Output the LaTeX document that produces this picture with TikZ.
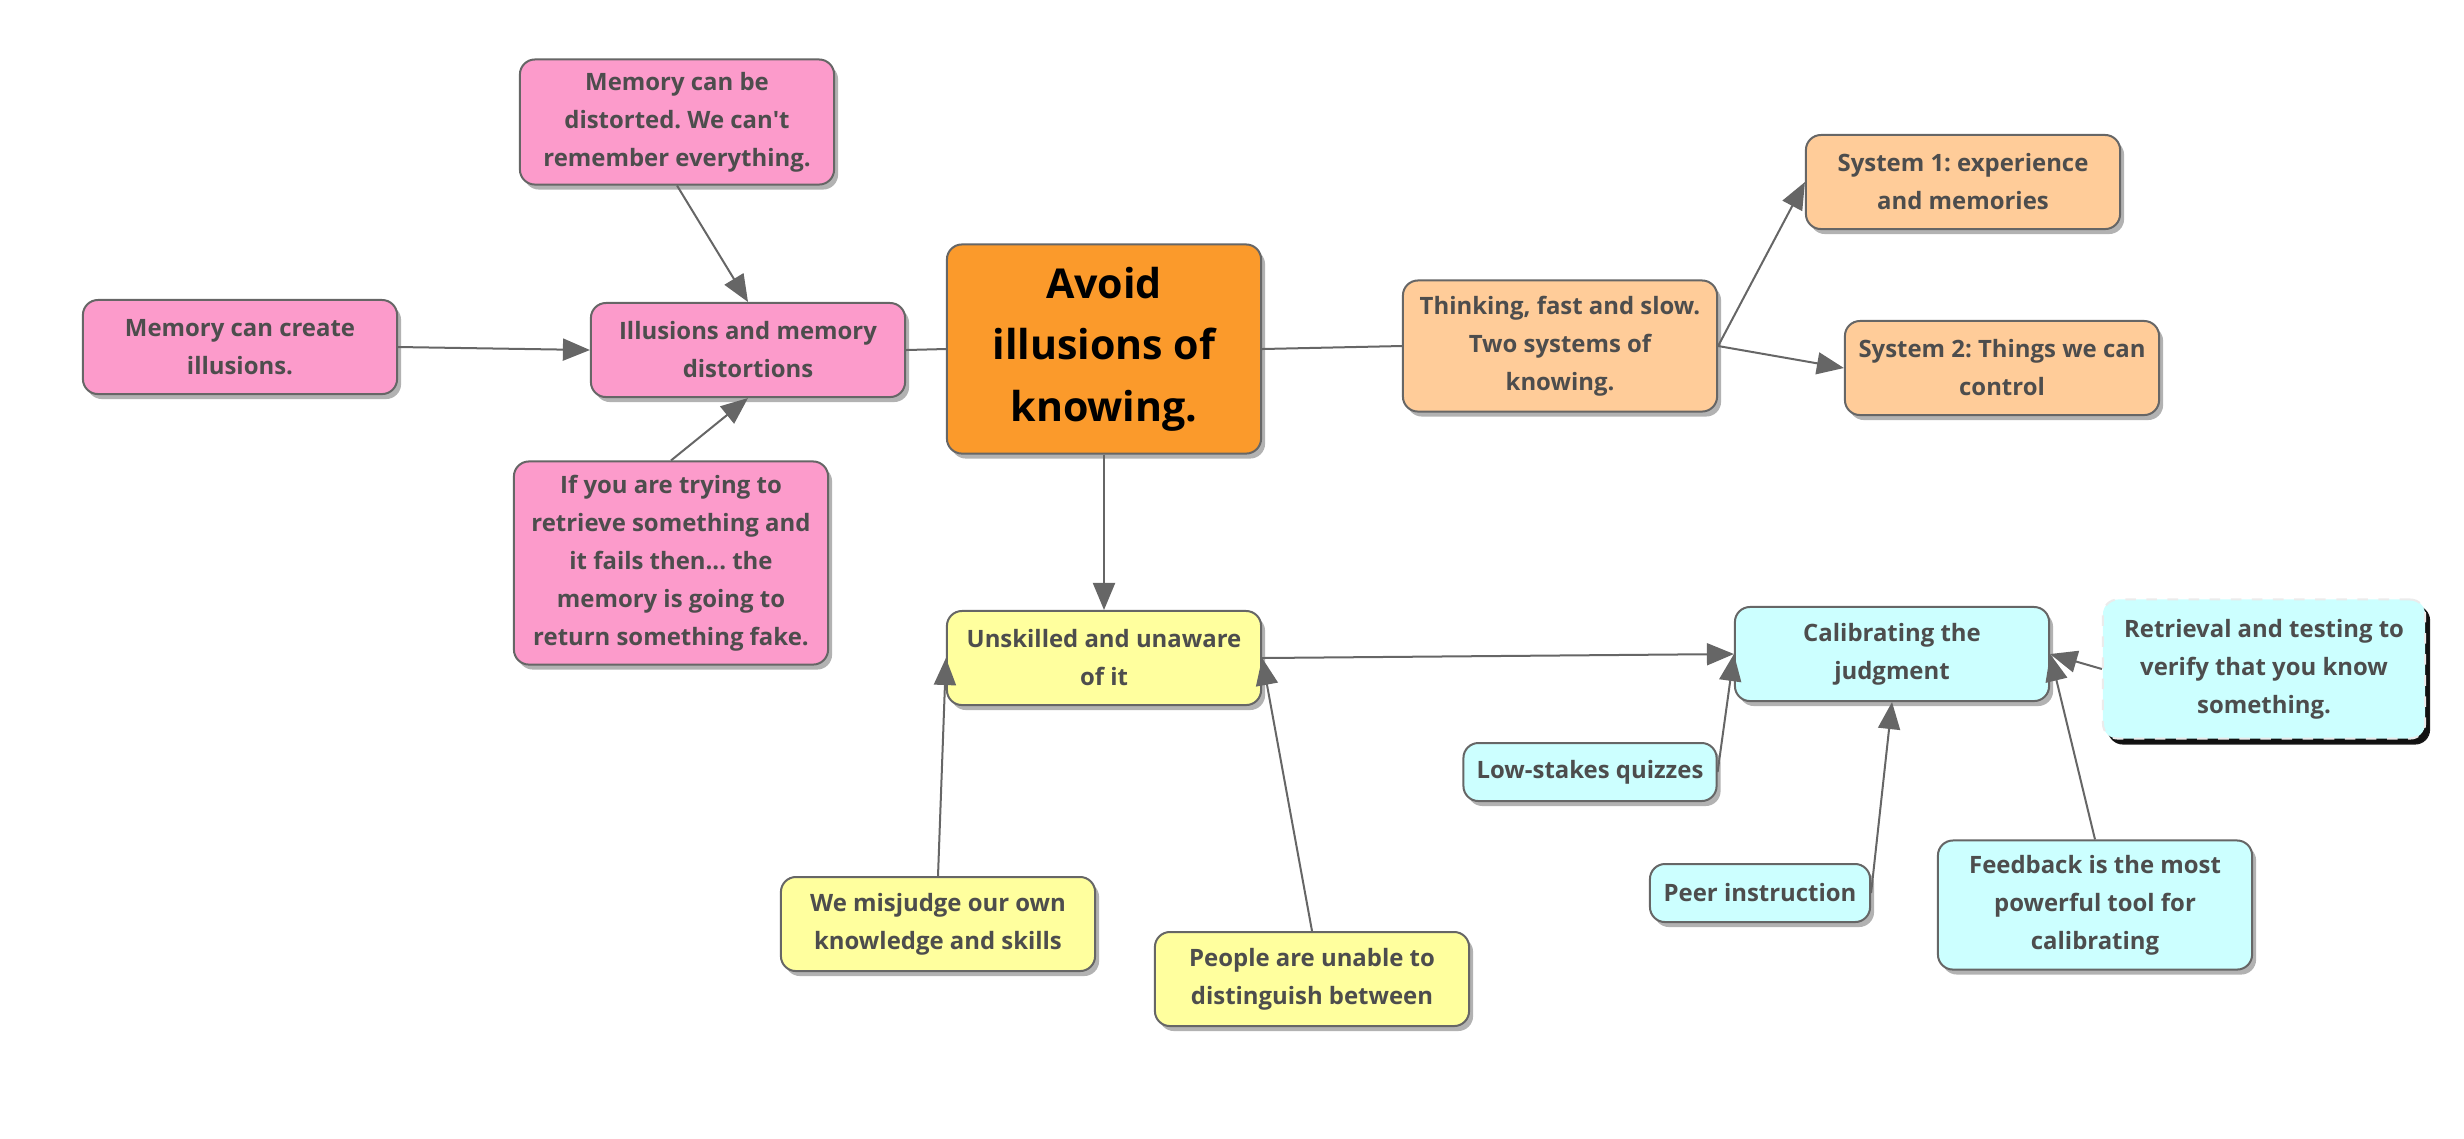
\documentclass[tikz,border=0pt]{standalone}
\usepackage{fontspec}
\setmainfont{Open Sans}
\usetikzlibrary{arrows.meta,shadows}
\frenchspacing

\definecolor{pinkbox}{HTML}{FC9BCB}
\definecolor{orangebox}{HTML}{FB9A2B}
\definecolor{peachbox}{HTML}{FFCC99}
\definecolor{yellowbox}{HTML}{FFFF9E}
\definecolor{cyanbox}{HTML}{CCFFFF}
\definecolor{edgegray}{HTML}{666666}
\definecolor{textgray}{HTML}{4D4D4D}

\newcommand\mapfont{\fontsize{6.8pt}{10.8pt}\selectfont}
\newcommand\rootfont{\fontsize{11.7pt}{17.5pt}\selectfont}

\begin{document}
\begin{tikzpicture}[x=0.01cm,y=-0.01cm,
  topic/.style={draw=edgegray,line width=0.02cm,rounded corners=0.15cm,align=center,
    text=textgray,font=\mapfont\bfseries,inner sep=0pt,
    minimum width=3.14cm,minimum height=0.94cm,
    drop shadow={shadow xshift=0.04cm,shadow yshift=-0.05cm,fill=black,opacity=0.3}},
  link/.style={draw=edgegray,line width=0.02cm},
  arr/.style={link,-{Triangle[length=0.27cm,width=0.22cm]}}]

\useasboundingbox (0,0) rectangle (2464,1138);

\node[topic,fill=orangebox,text=black,font=\rootfont\bfseries,minimum height=2.09cm] (root) at (1104,349) {Avoid\\illusions of\\knowing.};

\node[topic,fill=pinkbox] (illusions) at (748,350) {Illusions and memory\\distortions};
\node[topic,fill=pinkbox,minimum height=1.25cm] (distorted) at (677,122) {Memory can be\\distorted. We can\textquotesingle t\\remember everything.};
\node[topic,fill=pinkbox] (create) at (240,347) {Memory can create\\illusions.};
\node[topic,fill=pinkbox,minimum height=2.03cm] (fake) at (671,563) {If you are trying to\\retrieve something and\\it fails then... the\\memory is going to\\return something fake.};

\node[topic,fill=peachbox,minimum height=1.31cm] (thinking) at (1560,346) {Thinking, fast and slow.\\Two systems of\\knowing.};
\node[topic,fill=peachbox] (sysone) at (1963,182) {System 1: experience\\and memories};
\node[topic,fill=peachbox] (systwo) at (2002,368) {System 2: Things we can\\control};

\node[topic,fill=yellowbox] (unskilled) at (1104,658) {Unskilled and unaware\\of it};
\node[topic,fill=yellowbox] (misjudge) at (938,924) {We misjudge our own\\knowledge and skills};
\node[topic,fill=yellowbox] (people) at (1312,979) {People are unable to\\distinguish between};

\node[topic,fill=cyanbox] (calib) at (1892,654) {Calibrating the\\judgment};
\node[topic,fill=cyanbox,draw=black!8,dashed,minimum width=3.22cm,minimum height=1.39cm,
  drop shadow={shadow xshift=0.05cm,shadow yshift=-0.06cm,fill=black,opacity=0.9}] (retrtest) at (2264,669) {Retrieval and testing to\\verify that you know\\something.};
\node[topic,fill=cyanbox,minimum width=2.53cm,minimum height=0.58cm] (quizzes) at (1590,772) {Low-stakes quizzes};
\node[topic,fill=cyanbox,minimum width=2.2cm,minimum height=0.58cm] (peer) at (1760,893) {Peer instruction};
\node[topic,fill=cyanbox,minimum height=1.29cm] (feedback) at (2095,905) {Feedback is the most\\powerful tool for\\calibrating};

\draw[link] (illusions.east) -- (root.west);
\draw[link] (root.east) -- (thinking.west);
\draw[arr] (distorted.south) -- (illusions.north);
\draw[arr] (create.east) -- (illusions.west);
\draw[arr] (fake.north) -- (illusions.south);
\draw[arr] (thinking.east) -- (sysone.west);
\draw[arr] (thinking.east) -- (systwo.west);
\draw[arr] (root.south) -- (unskilled.north);
\draw[arr] (misjudge.north) -- (unskilled.west);
\draw[arr] (people.north) -- (unskilled.east);
\draw[arr] (unskilled.east) -- (calib.west);
\draw[arr] (quizzes.east) -- (calib.west);
\draw[arr] (peer.east) -- (calib.south);
\draw[arr] (feedback.north) -- (calib.east);
\draw[arr] (retrtest.west) -- (calib.east);

\end{tikzpicture}
\end{document}
